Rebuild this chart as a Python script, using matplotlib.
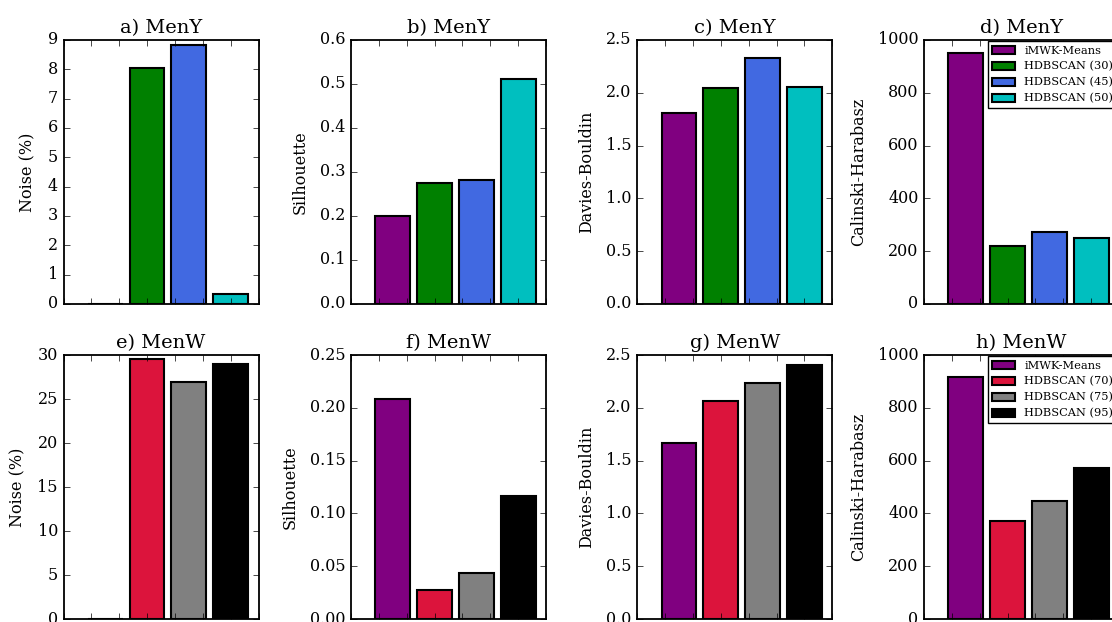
import matplotlib
matplotlib.use('Agg')
import matplotlib.pyplot as plt
import numpy as np

plt.style.use('classic')
plt.rcParams['font.family'] = 'DejaVu Serif'
plt.rcParams['axes.linewidth'] = 1.3

# methods and colours
methods_y = ['iMWK-Means', 'HDBSCAN (30)', 'HDBSCAN (45)', 'HDBSCAN (50)']
methods_w = ['iMWK-Means', 'HDBSCAN (70)', 'HDBSCAN (75)', 'HDBSCAN (95)']
colors_y = ['purple', 'green', 'royalblue', 'c']
colors_w = ['purple', 'crimson', 'gray', 'black']

# MenY
noise_y = [0.0, 8.05, 8.84, 0.33]
sil_y = [0.199, 0.275, 0.282, 0.511]
db_y = [1.81, 2.045, 2.33, 2.055]
ch_y = [950, 218, 272, 251]

# MenW
noise_w = [0.0, 29.6, 26.9, 29.0]
sil_w = [0.208, 0.027, 0.0435, 0.1166]
db_w = [1.671, 2.064, 2.239, 2.409]
ch_w = [917, 372, 446, 572]

xpos = [0.3, 0.6, 0.9, 1.2]
bar_w = 0.25

W, H = 1112.0, 622.0
fig = plt.figure(figsize=(W / 100, H / 100), dpi=100, facecolor='white')

col_left = [63.5, 351, 637.3, 924]
ax_w = 195
row_bottom = [304, 619]
ax_h = 264

panels = [
    ('a) MenY', noise_y, 'Noise (%)', (0, 9), np.arange(0, 9.1, 1)),
    ('b) MenY', sil_y, 'Silhouette', (0, 0.6), np.arange(0, 0.61, 0.1)),
    ('c) MenY', db_y, 'Davies-Bouldin', (0, 2.5), np.arange(0, 2.51, 0.5)),
    ('d) MenY', ch_y, 'Calinski-Harabasz', (0, 1000), np.arange(0, 1001, 200)),
    ('e) MenW', noise_w, 'Noise (%)', (0, 30), np.arange(0, 31, 5)),
    ('f) MenW', sil_w, 'Silhouette', (0, 0.25), np.arange(0, 0.251, 0.05)),
    ('g) MenW', db_w, 'Davies-Bouldin', (0, 2.5), np.arange(0, 2.51, 0.5)),
    ('h) MenW', ch_w, 'Calinski-Harabasz', (0, 1000), np.arange(0, 1001, 200)),
]

for k, (title, vals, ylab, ylim, yt) in enumerate(panels):
    r, c = divmod(k, 4)
    left = col_left[c] / W
    bottom = 1 - row_bottom[r] / H
    ax = fig.add_axes([left, bottom, ax_w / W, ax_h / H])
    colors = colors_y if r == 0 else colors_w
    labels = methods_y if r == 0 else methods_w
    bars = ax.bar(xpos, vals, bar_w, color=colors, edgecolor='black',
                  linewidth=1.5, align='center')
    ax.set_xlim(0, 1.4)
    ax.set_xticks(np.arange(0, 1.41, 0.2))
    ax.set_xticklabels([])
    ax.set_ylim(*ylim)
    ax.set_yticks(yt)
    ax.tick_params(axis='y', labelsize=11.5)
    ax.set_ylabel(ylab, fontsize=11.5, labelpad=8)
    ax.set_title(title, fontsize=14)
    if c == 3:
        ax.legend(list(bars), labels, loc='upper right', fontsize=8.2,
                  borderaxespad=0.1)

fig.savefig('out.png', dpi=100, facecolor='white')
